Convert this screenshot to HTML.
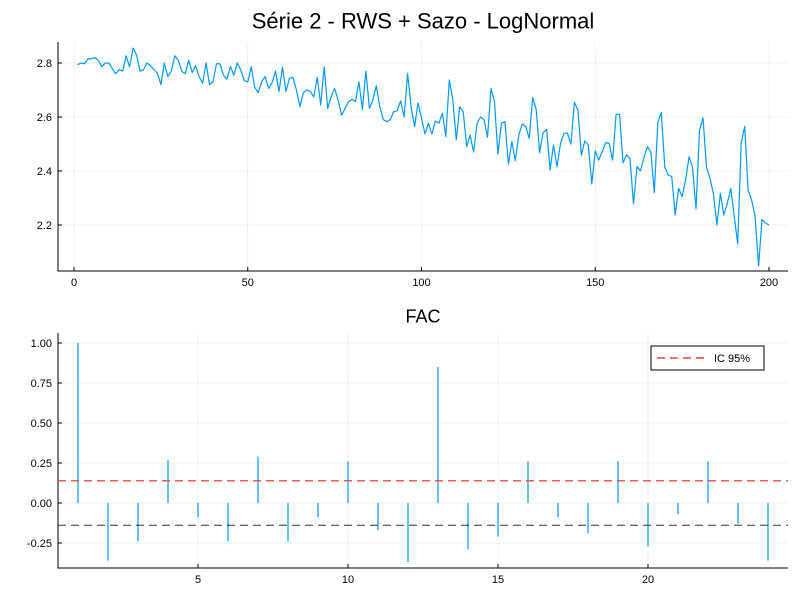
<!DOCTYPE html>
<html><head><meta charset="utf-8">
<style>
html,body{margin:0;padding:0;background:#fff;}
svg{display:block;font-family:"Liberation Sans","DejaVu Sans",sans-serif;}
</style></head>
<body>
<svg id="c" width="800" height="600" viewBox="0 0 800 600" xmlns="http://www.w3.org/2000/svg">
<rect x="0" y="0" width="800" height="600" fill="#fff"/>
<text x="423" y="21" font-size="22" text-anchor="middle" fill="#000" dy="0.35em">Série 2 - RWS + Sazo - LogNormal</text>
<text x="423" y="316" font-size="18" text-anchor="middle" fill="#000" dy="0.35em">FAC</text>
</svg>
<script>
const seriesValues=[2.793,2.80,2.797,2.815,2.815,2.82,2.81,2.786,2.80,2.80,2.78,2.76,2.775,2.77,2.827,2.786,2.855,2.83,2.77,2.775,2.80,2.79,2.775,2.763,2.72,2.80,2.75,2.77,2.827,2.81,2.77,2.76,2.81,2.765,2.79,2.75,2.725,2.80,2.72,2.73,2.797,2.797,2.755,2.74,2.787,2.755,2.80,
2.774,2.735,2.73,2.786,2.71,2.69,2.73,2.75,2.706,2.727,2.77,2.694,2.784,2.694,2.743,2.747,2.70,2.638,2.69,2.70,2.694,2.675,2.747,2.645,2.786,2.632,2.675,2.706,2.663,2.607,2.632,2.657,2.665,2.657,2.73,2.628,2.77,2.632,2.663,2.716,2.638,2.59,2.583,2.59,2.62,2.623,2.66,2.60,2.762,2.638,2.564,2.653,
2.595,2.537,2.577,2.537,2.585,2.577,2.614,2.527,2.737,2.663,2.515,2.638,2.62,2.49,2.533,2.47,2.577,2.60,2.59,2.525,2.705,2.657,2.463,2.577,2.583,2.426,2.509,2.438,2.533,2.574,2.564,2.521,2.672,2.628,2.468,2.542,2.554,2.404,2.496,2.416,2.502,2.54,2.54,2.50,2.654,2.626,2.459,2.511,2.496,2.352,2.475,2.44,
2.472,2.505,2.502,2.44,2.61,2.61,2.43,2.46,2.447,2.278,2.417,2.40,2.45,2.49,2.47,2.32,2.58,2.617,2.414,2.385,2.38,2.237,2.336,2.305,2.367,2.453,2.414,2.26,2.55,2.597,2.414,2.373,2.317,2.20,2.317,2.237,2.28,2.336,2.23,2.13,2.503,2.565,2.33,2.293,2.23,2.048,2.22,2.207,2.20];
const topXTicks=[0,50,100,150,200];
const topYTicks=[2.2,2.4,2.6,2.8];
const acfLags=[1,2,3,4,5,6,7,8,9,10,11,12,13,14,15,16,17,18,19,20,21,22,23,24];
const acfValues=[1.00,-0.36,-0.24,0.27,-0.09,-0.24,0.29,-0.24,-0.09,0.26,-0.17,-0.37,0.85,-0.29,-0.21,0.26,-0.09,-0.19,0.26,-0.27,-0.07,0.26,-0.13,-0.36];
const acfXTicks=[5,10,15,20];
const acfYTicks=[-0.25,0,0.25,0.5,0.75,1.0];
const acfYLabels=["-0.25","0.00","0.25","0.50","0.75","1.00"];
const ciValue=0.139;

const NS="http://www.w3.org/2000/svg";
const svg=document.getElementById('c');
function mk(tag,attrs,parent){const e=document.createElementNS(NS,tag);for(const k in attrs)e.setAttribute(k,attrs[k]);(parent||svg).appendChild(e);return e;}

// Top panel
const T={l:58,r:788,t:42,b:271};
const tx=v=>74+v*(769-74)/200;
const ty=v=>63+(2.8-v)*270;
const gTop=mk('g',{});


topXTicks.forEach(v=>{
  const l=mk('line',{x1:tx(v),x2:tx(v),y1:T.t,y2:T.b,stroke:'#000','stroke-opacity':0.1,'stroke-width':0.6},gTop);
  
  
  const k=mk('line',{x1:tx(v),x2:tx(v),y1:T.b,y2:T.b-4,stroke:'#000','stroke-width':1},gTop);
  
  
  const t=mk('text',{x:tx(v),y:T.b+15,'font-size':11,'text-anchor':'middle'},gTop);t.textContent=v;
  
  
});
topYTicks.forEach(v=>{
  const l=mk('line',{x1:T.l,x2:T.r,y1:ty(v),y2:ty(v),stroke:'#000','stroke-opacity':0.1,'stroke-width':0.6},gTop);
  
  
  const k=mk('line',{x1:T.l,x2:T.l+4,y1:ty(v),y2:ty(v),stroke:'#000','stroke-width':1},gTop);
  
  
  const t=mk('text',{x:T.l-6,y:ty(v)+4,'font-size':11,'text-anchor':'end'},gTop);t.textContent=v.toFixed(1);
  
  
});
const ax1=mk('path',{d:`M${T.l},${T.t}V${T.b}H${T.r}`,fill:'none',stroke:'#000','stroke-width':1},gTop);


const pts=seriesValues.map((v,i)=>`${tx(i+1).toFixed(1)},${ty(v).toFixed(1)}`).join(' ');
const line=mk('polyline',{points:pts,fill:'none',stroke:'#009AFA','stroke-width':1.2,'stroke-linejoin':'round'},gTop);



// Bottom panel
const B={l:58,r:788,t:333,b:568};
const bx=v=>78+(v-1)*30;
const by=v=>503-v*160;
const gB=mk('g',{});


acfXTicks.forEach(v=>{
  const l=mk('line',{x1:bx(v),x2:bx(v),y1:B.t,y2:B.b,stroke:'#000','stroke-opacity':0.1,'stroke-width':0.6},gB);
  
  
  const k=mk('line',{x1:bx(v),x2:bx(v),y1:B.b,y2:B.b-4,stroke:'#000','stroke-width':1},gB);
  
  
  const t=mk('text',{x:bx(v),y:B.b+15,'font-size':11,'text-anchor':'middle'},gB);t.textContent=v;
  
  
});
acfYTicks.forEach((v,i)=>{
  const l=mk('line',{x1:B.l,x2:B.r,y1:by(v),y2:by(v),stroke:'#000','stroke-opacity':0.1,'stroke-width':0.6},gB);
  
  
  const k=mk('line',{x1:B.l,x2:B.l+4,y1:by(v),y2:by(v),stroke:'#000','stroke-width':1},gB);
  
  
  const t=mk('text',{x:B.l-6,y:by(v)+4,'font-size':11,'text-anchor':'end'},gB);t.textContent=acfYLabels[i];
  
  
});
const ax2=mk('path',{d:`M${B.l},${B.t}V${B.b}H${B.r}`,fill:'none',stroke:'#000','stroke-width':1},gB);


acfLags.forEach((lag,i)=>{
  const s=mk('line',{x1:bx(lag),x2:bx(lag),y1:by(0),y2:by(acfValues[i]),stroke:'#009AFA','stroke-width':1.2},gB);
  
  
});
const ciU=mk('line',{x1:B.l,x2:B.r,y1:by(ciValue),y2:by(ciValue),stroke:'#E8413A','stroke-width':1.4,'stroke-dasharray':'8,5','stroke-opacity':0.85},gB);


const ciL=mk('line',{x1:B.l,x2:B.r,y1:by(-ciValue),y2:by(-ciValue),stroke:'#000','stroke-width':1,'stroke-dasharray':'8,5','stroke-opacity':0.8},gB);


const lg=mk('g',{},gB);


mk('rect',{x:651,y:346,width:113,height:24,fill:'#fff',stroke:'#000','stroke-width':1},lg);
const le=mk('line',{x1:657,x2:707,y1:358,y2:358,stroke:'#E8413A','stroke-width':1.4,'stroke-dasharray':'8,5'},lg);


const lt=mk('text',{x:714,y:362,'font-size':11},lg);lt.textContent='IC 95%';


</script>
</body></html>
